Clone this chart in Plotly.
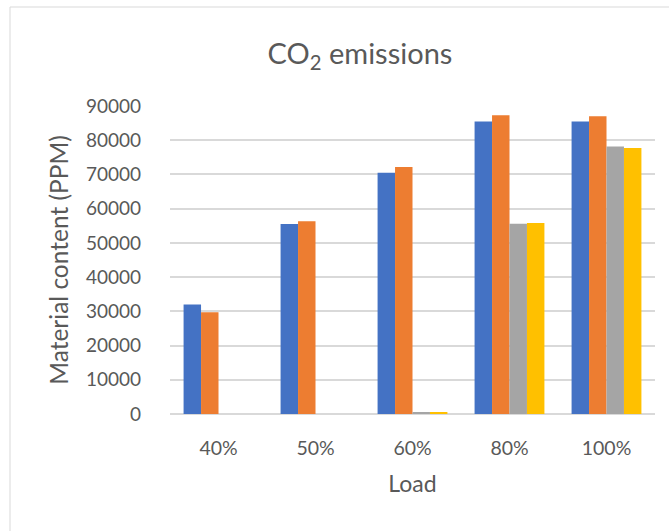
import plotly.graph_objects as go

categories = ["40%", "50%", "60%", "80%", "100%"]
series_names = ["Series 1", "Series 2", "Series 3", "Series 4"]
series_1 = [32000, 55500, 70500, 85500, 85500]
series_2 = [29700, 56300, 72200, 87300, 87000]
series_3 = [0, 0, 400, 55600, 78200]
series_4 = [0, 0, 350, 55800, 77700]
y_ticks = [0, 10000, 20000, 30000, 40000, 50000, 60000, 70000, 80000, 90000]

colors = ["#4472C4", "#ED7D31", "#A5A5A5", "#FFC000"]
font_family = "Lato, 'Open Sans', sans-serif"
text_color = "#595959"

fig = go.Figure()
for name, vals, c in zip(series_names, [series_1, series_2, series_3, series_4], colors):
    fig.add_trace(go.Bar(x=categories, y=vals, name=name, marker=dict(color=c, line=dict(width=0))))

W, H = 669, 531
ml, mt = 170, 106
pw, ph = 485, 308
mr = W - ml - pw
mb = H - mt - ph

fig.update_layout(
    width=W, height=H,
    margin=dict(l=ml, r=mr, t=mt, b=mb, pad=0),
    paper_bgcolor="white", plot_bgcolor="white",
    barmode="group", bargap=0.28, bargroupgap=0,
    showlegend=False,
    font=dict(family=font_family, color=text_color, size=19),
    title=dict(text="CO<sub>2</sub> emissions", x=360 / W, xanchor="center", y=1 - 54 / H, yanchor="middle",
               font=dict(size=29, color=text_color, family=font_family)),
    xaxis=dict(
        showgrid=False, showline=False, ticks="", ticklen=0,
        ticklabelstandoff=20,
        tickfont=dict(size=19.5, color=text_color),
        title=dict(text="Load", font=dict(size=23, color=text_color), standoff=18),
    ),
    yaxis=dict(
        range=[0, 90000], tickvals=y_ticks, tickformat="d",
        showgrid=True, gridcolor="#D9D9D9", gridwidth=1.5,
        zeroline=True, zerolinecolor="#D9D9D9", zerolinewidth=1.5,
        showline=False, ticks="", ticklen=0,
        ticklabelstandoff=28,
        tickfont=dict(size=19, color=text_color),
        title=dict(text="Material content (PPM)", font=dict(size=24.5, color=text_color), standoff=10),
    ),
    shapes=[dict(
        type="rect", xref="paper", yref="paper",
        x0=(10 - ml) / pw, x1=(W + 20 - ml) / pw,
        y0=(mb - (H + 20)) / ph, y1=(H - 7 - mb) / ph,
        line=dict(color="#D9D9D9", width=1), fillcolor="rgba(0,0,0,0)", layer="below",
    )],
)

fig.write_html("out.html", config={"displayModeBar": False},
               post_script="document.body.style.margin='0px';")
